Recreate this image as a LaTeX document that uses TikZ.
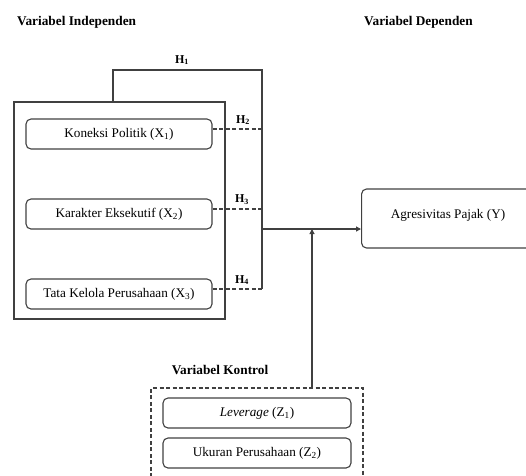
\documentclass[tikz,border=0pt]{standalone}
\usepackage{fontspec}
\setmainfont{Liberation Serif}
\usetikzlibrary{arrows.meta}
\begin{document}
\begin{tikzpicture}[x=1pt,y=-1pt,
  varbox/.style={draw=black!75,line width=1.1pt,rounded corners=5pt,minimum width=186pt,minimum height=30pt,inner sep=0pt,font=\fontsize{13.2}{15}\selectfont},
  heading/.style={font=\fontsize{13.3}{15}\selectfont\bfseries,inner sep=0pt},
  hlabel/.style={font=\fontsize{12}{14}\selectfont\bfseries,inner sep=0pt},
  link/.style={draw=black!75,line width=1.1pt},
  dlink/.style={draw=black!75,line width=1.1pt,dash pattern=on 4pt off 2.5pt}]
\useasboundingbox (0,0) rectangle (526,475);
% headings
\node[heading,anchor=west] (hind) at (17,22) {Variabel Independen};
\node[heading,anchor=west] (hdep) at (364,22) {Variabel Dependen};
\node[heading] (hkon) at (220,370) {Variabel Kontrol};
% outer box
\draw[link] (14,102) rectangle (225,319);
\coordinate (outtop) at (113,102);
% independent variables
\node[varbox] (x1) at (119,134) {Koneksi Politik (X\textsubscript{1})};
\node[varbox] (x2) at (119,214) {Karakter Eksekutif (X\textsubscript{2})};
\node[varbox] (x3) at (119,294) {Tata Kelola Perusahaan (X\textsubscript{3})};
% dependent variable
\node[varbox,minimum width=180pt,minimum height=59pt,anchor=west] (y) at (361,218.5) {};
\node[font=\fontsize{13.2}{15}\selectfont,inner sep=0pt] (ytext) at (448,215) {Agresivitas Pajak (Y)};
% hub coordinates
\coordinate (h1top) at (262,70);
\coordinate (hub) at (262,229);
\coordinate (j2) at (262,129);
\coordinate (j3) at (262,209);
\coordinate (j4) at (262,289);
% H1 path
\draw[link] (outtop) -- (113,70) -- (h1top) -- (j4);
\node[hlabel] (lh1) at (182,60) {H\textsubscript{1}};
% dashed
\draw[dlink] ([yshift=5pt]x1.east) -- (j2);
\draw[dlink] ([yshift=5pt]x2.east) -- (j3);
\draw[dlink] ([yshift=5pt]x3.east) -- (j4);
\node[hlabel] (lh2) at (243,120) {H\textsubscript{2}};
\node[hlabel] (lh3) at (242,200) {H\textsubscript{3}};
\node[hlabel] (lh4) at (242,280) {H\textsubscript{4}};
% arrow to Y
\draw[link,-{Triangle[length=5pt,width=5pt]}] (hub) -- (hub -| y.west);
% control box
\draw[dlink] (151,490) -- (151,388) -- (363,388) -- (363,490);
\coordinate (ctop) at (312,388);
\node[varbox,minimum width=188pt] (z1) at (257,413) {\textit{Leverage} (Z\textsubscript{1})};
\node[varbox,minimum width=188pt] (z2) at (257,453) {Ukuran Perusahaan (Z\textsubscript{2})};
\draw[link,-{Triangle[length=5pt,width=5pt]}] (ctop) -- (ctop |- hub);
\end{tikzpicture}
\end{document}
